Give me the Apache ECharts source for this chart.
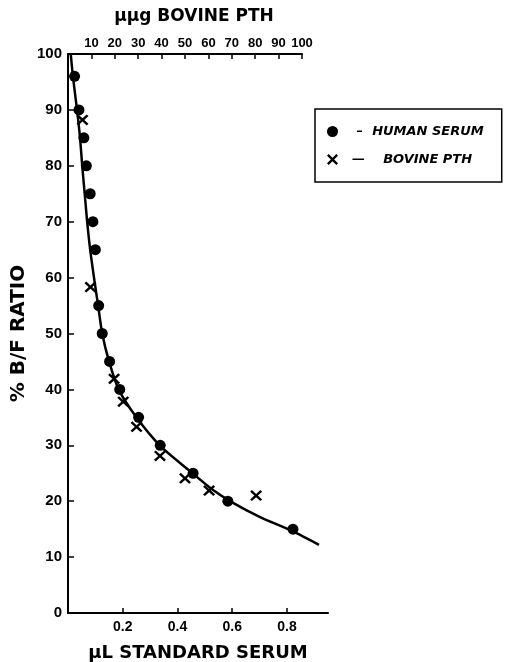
<!DOCTYPE html>
<html>
<head>
<meta charset="utf-8">
<script src="https://cdn.jsdelivr.net/npm/echarts@6/dist/echarts.min.js"></script>
<style>
html,body{margin:0;padding:0;background:#fff;}
#chart{width:511px;height:662px;}
</style>
</head>
<body>
<div id="chart"></div>
<script>
// ---- data ----
const seriesNames = ['HUMAN SERUM', 'BOVINE PTH'];
const bottomTitle = 'µL STANDARD SERUM';
const topTitle = 'µµg BOVINE PTH';
const yTitle = '% B/F RATIO';

// Human serum (bottom axis, µL)
const serumX = [0.024, 0.040, 0.058, 0.067, 0.081, 0.091, 0.100, 0.112, 0.125, 0.152, 0.189, 0.258, 0.337, 0.457, 0.584, 0.822];
const serumY = [96, 90, 85, 80, 75, 70, 65, 55, 50, 45, 40, 35, 30, 25, 20, 15];

// Bovine PTH (top axis, µµg)
const pthX = [6.2, 9.6, 19.7, 23.6, 29.3, 39.3, 50.0, 60.3, 80.4, 100.7];
const pthY = [88.2, 58.3, 41.9, 37.8, 33.3, 28.1, 24.1, 21.9, 21.0, 13.1];

// Fitted curve (bottom axis units)
const curveX = [0.010, 0.018, 0.033, 0.044, 0.052, 0.061, 0.070, 0.081, 0.095, 0.110, 0.125, 0.150, 0.185, 0.250, 0.335, 0.455, 0.530, 0.600, 0.700, 0.822, 0.917];
const curveY = [100, 96, 90, 85, 80, 75, 70, 65, 60, 55, 50, 45, 40, 35, 30, 25, 22, 19.8, 17.2, 14.6, 12.2];

const bottomTicks = [0.2, 0.4, 0.6, 0.8];
const topTicks = [10, 20, 30, 40, 50, 60, 70, 80, 90, 100];

// ---- chart ----
const zip = (a, b) => a.map((v, i) => [v, b[i]]);
const crossPath = 'path://M0,1.5 L1.5,0 L5,3.5 L8.5,0 L10,1.5 L6.5,5 L10,8.5 L8.5,10 L5,6.5 L1.5,10 L0,8.5 L3.5,5 Z';
const labelFont = 'Liberation Sans';
const titleFont = 'DejaVu Sans';

const chart = echarts.init(document.getElementById('chart'), null, {renderer: 'canvas'});
chart.setOption({
  backgroundColor: '#ffffff',
  animation: false,
  grid: [
    {left: 68, top: 54, width: 260, height: 559, containLabel: false, outerBoundsMode: 'none'},
    {left: 68, top: 54, width: 234, height: 559, containLabel: false, outerBoundsMode: 'none'}
  ],
  legend: {
    data: seriesNames,
    orient: 'vertical',
    left: 315,
    top: 109,
    padding: [16, 18, 16, 12],
    itemGap: 15,
    itemWidth: 11,
    itemHeight: 11,
    borderColor: '#000',
    borderWidth: 1.5,
    borderRadius: 0,
    formatter: name => (name === seriesNames[0] ? '   –  ' : '  —    ') + name,
    textStyle: {fontFamily: titleFont, fontStyle: 'italic', fontWeight: 'bold', fontSize: 13, color: '#000'}
  },
  xAxis: [
    {
      gridIndex: 0, type: 'value', position: 'bottom', min: 0, max: 0.95, interval: 0.2,
      name: bottomTitle, nameLocation: 'middle', nameGap: 31,
      nameTextStyle: {fontFamily: titleFont, fontWeight: 'bold', fontSize: 18, color: '#000'},
      axisLine: {show: true, onZero: false, lineStyle: {color: '#000', width: 2}},
      axisTick: {show: true, inside: true, length: 5, customValues: bottomTicks, lineStyle: {color: '#000', width: 1.5}},
      axisLabel: {
        margin: 7, color: '#000', fontFamily: labelFont, fontWeight: 'bold', fontSize: 14,
        customValues: bottomTicks,
        formatter: v => Number(v).toFixed(1)
      },
      splitLine: {show: false}
    },
    {
      gridIndex: 1, type: 'value', position: 'top', min: 0, max: 100, interval: 10,
      name: topTitle, nameLocation: 'middle', nameGap: 29,
      nameTextStyle: {fontFamily: titleFont, fontWeight: 'bold', fontSize: 17, color: '#000', padding: [0, 0, 0, 18]},
      axisLine: {show: true, onZero: false, lineStyle: {color: '#000', width: 2}},
      axisTick: {show: true, inside: true, length: 5, lineStyle: {color: '#000', width: 1.5}},
      axisLabel: {
        margin: 4, color: '#000', fontFamily: labelFont, fontWeight: 'bold', fontSize: 13,
        formatter: v => (topTicks.indexOf(Math.round(v)) >= 0 ? String(Math.round(v)) : '')
      },
      splitLine: {show: false}
    }
  ],
  yAxis: [
    {
      gridIndex: 0, type: 'value', min: 0, max: 100, interval: 10,
      name: yTitle, nameLocation: 'middle', nameGap: 39, nameRotate: 90, nameMoveOverlap: false,
      nameTextStyle: {fontFamily: titleFont, fontWeight: 'bold', fontSize: 20, color: '#000'},
      axisLine: {show: true, onZero: false, lineStyle: {color: '#000', width: 2}},
      axisTick: {show: true, inside: true, length: 6, lineStyle: {color: '#000', width: 1.5}},
      axisLabel: {margin: 6, color: '#000', fontFamily: labelFont, fontWeight: 'bold', fontSize: 15},
      splitLine: {show: false}
    },
    {
      gridIndex: 1, type: 'value', min: 0, max: 100, show: false
    }
  ],
  series: [
    {
      name: 'curve', type: 'line', xAxisIndex: 0, yAxisIndex: 0,
      data: zip(curveX, curveY), showSymbol: false, smooth: 0.25,
      lineStyle: {color: '#000', width: 2.5}, z: 2, silent: true
    },
    {
      name: seriesNames[0], type: 'scatter', xAxisIndex: 0, yAxisIndex: 0,
      data: zip(serumX, serumY), symbol: 'circle', symbolSize: 11,
      itemStyle: {color: '#000', opacity: 1}, z: 3
    },
    {
      name: seriesNames[1], type: 'scatter', xAxisIndex: 1, yAxisIndex: 1,
      data: zip(pthX, pthY), symbol: crossPath, symbolSize: [12, 11],
      itemStyle: {color: '#000', opacity: 1}, z: 3
    }
  ]
});
</script>
</body>
</html>
